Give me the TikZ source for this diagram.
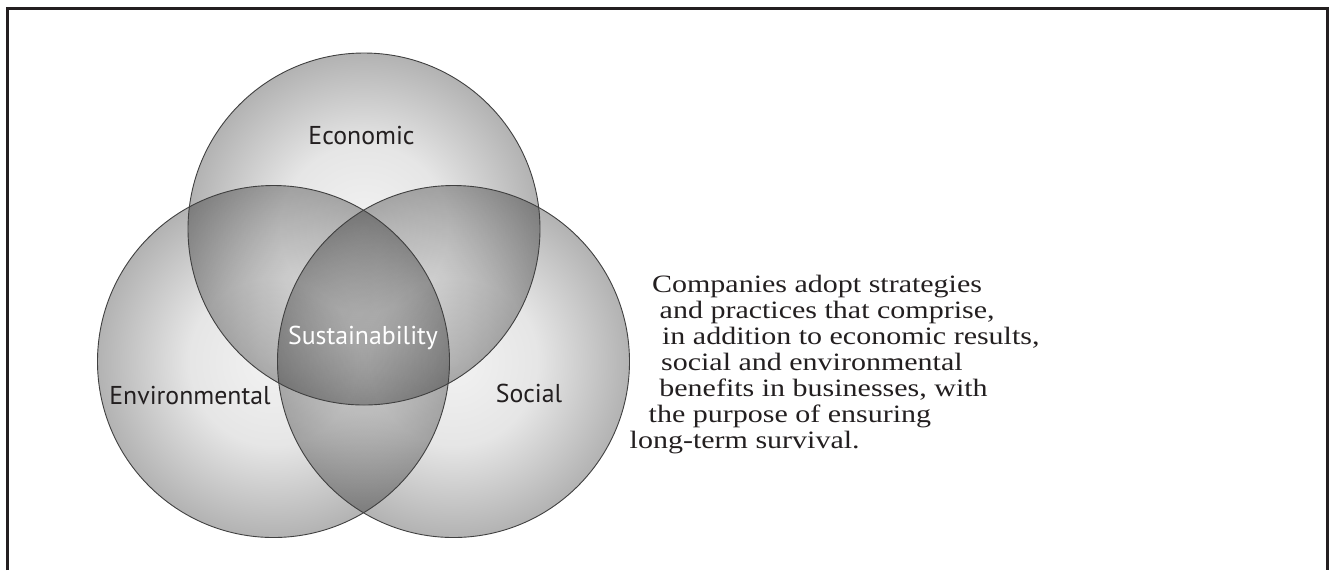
\documentclass[tikz,border=0pt]{standalone}
\usepackage{fontspec}
\setmainfont{Liberation Serif}
\newfontfamily\labelfont{PT Sans}
\newfontfamily\notefont[FakeStretch=1.2]{Liberation Serif}
\usetikzlibrary{positioning}

\definecolor{ink}{HTML}{231F20}
\pgfdeclareradialshading{vennball}{\pgfpoint{0bp}{0bp}}{%
  color(0bp)=(black!5); color(12bp)=(black!10); color(25bp)=(black!30); color(50bp)=(black!30)}

\tikzset{
  frame/.style={draw=ink, line width=1.5pt},
  ring/.style={draw=black!75, line width=0.45pt},
  setlabel/.style={font=\labelfont\fontsize{12.9}{15}\selectfont, text=ink, anchor=base, inner sep=0pt},
  note/.style={font=\notefont\fontsize{12.5}{15}\selectfont, text=ink, anchor=base west, inner sep=0pt}
}

\begin{document}
\begin{tikzpicture}[x=0.5pt, y=-0.5pt]
  \useasboundingbox (0,0) rectangle (1329,570);
  % open frame, no bottom edge
  \draw[frame] (7.5,570) -- (7.5,8) -- (1327.5,8) -- (1327.5,570);

  % the three sets
  \coordinate (eco) at (364,229);
  \coordinate (env) at (273.5,361.5);
  \coordinate (soc) at (453.5,361.5);
  \begin{scope}[blend group=multiply]
    \foreach \c in {eco,env,soc} {
      \shade[shading=vennball] (\c) circle[radius=176];
    }
  \end{scope}
  \foreach \c in {eco,env,soc} {
    \draw[ring] (\c) circle[radius=176];
  }

  \node[setlabel] (ecolabel) at (361.5,144) {Economic};
  \node[setlabel] (envlabel) at (190,404) {Environmental};
  \node[setlabel] (soclabel) at (529,402) {Social};
  \node[setlabel, text=white] (sustlabel) at (363,344) {Sustainability};

  % explanation, line by line
  \foreach \lx/\ly/\txt [count=\k] in {
      651.7/292/{Companies adopt strategies},
      659.3/318/{and practices that comprise,},
      661.7/344/{in addition to economic results,},
      660.7/370/{social and environmental},
      659/396/{benefits in businesses, with},
      648.3/422/{the purpose of ensuring},
      629.3/448/{long-term survival.}} {
    \node[note] (note\k) at (\lx,\ly) {\txt};
  }
\end{tikzpicture}
\end{document}
